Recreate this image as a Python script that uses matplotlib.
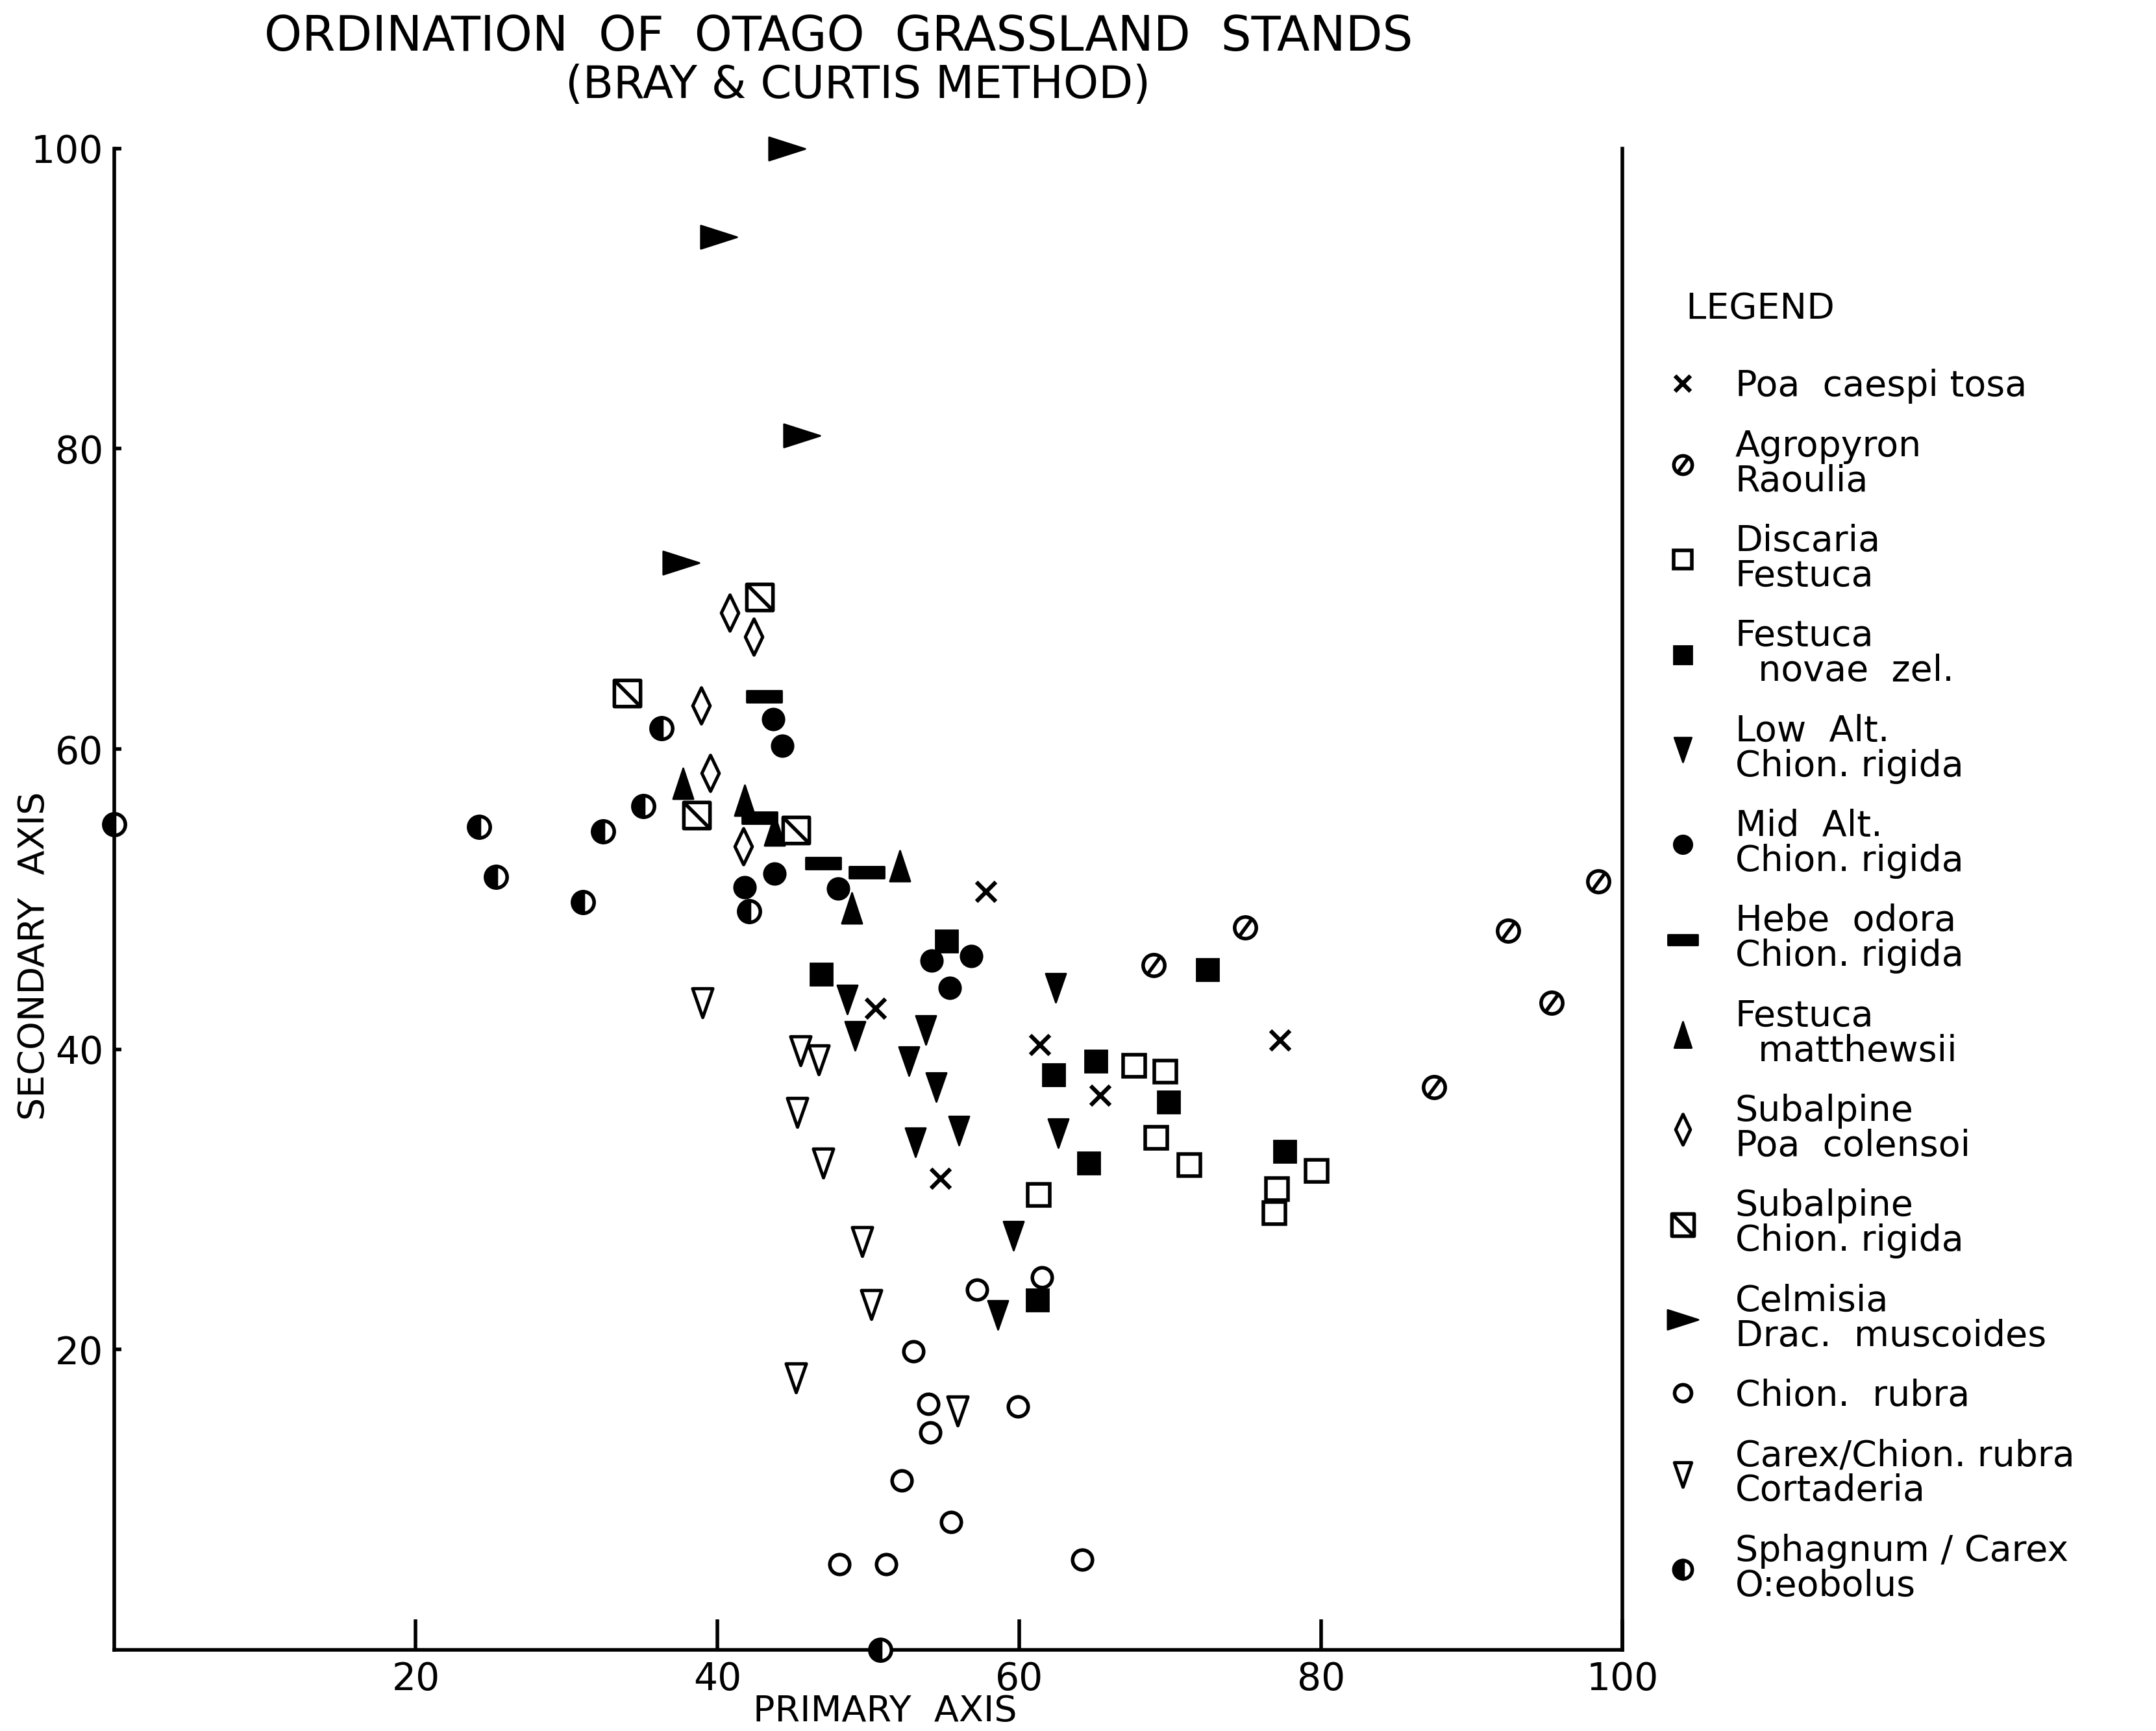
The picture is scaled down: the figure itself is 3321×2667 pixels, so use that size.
import numpy as np
import matplotlib
matplotlib.use("Agg")
import matplotlib.pyplot as plt
from matplotlib.path import Path

# stand positions (primary axis, secondary axis)
poa_caesp_x = [57.8, 50.5, 61.4, 65.4, 54.8, 77.3]
poa_caesp_y = [50.5, 42.7, 40.3, 36.9, 31.4, 40.6]

agropyron_x = [68.9, 75.0, 92.4, 98.4, 95.3, 87.5]
agropyron_y = [45.6, 48.1, 47.9, 51.2, 43.1, 37.5]

discaria_x = [67.6, 69.7, 69.1, 71.3, 79.7, 77.1, 76.9, 61.3]
discaria_y = [38.9, 38.5, 34.1, 32.3, 31.9, 30.7, 29.1, 30.3]

festuca_nz_x = [55.2, 46.9, 72.5, 65.1, 62.3, 69.9, 64.6, 77.6, 61.2]
festuca_nz_y = [47.2, 45.0, 45.3, 39.2, 38.3, 36.5, 32.4, 33.2, 23.3]

low_alt_x = [48.6, 49.1, 53.8, 52.7, 54.5, 62.4, 62.6, 53.1, 56.0, 59.6, 58.6]
low_alt_y = [43.3, 40.9, 41.3, 39.2, 37.5, 44.1, 34.4, 33.8, 34.6, 27.6, 22.3]

mid_alt_x = [43.7, 44.3, 41.8, 43.8, 48.0, 54.2, 56.8, 55.4]
mid_alt_y = [62.0, 60.2, 50.8, 51.7, 50.7, 45.9, 46.2, 44.1]

hebe_x = [43.1, 42.8, 47.0, 49.9]
hebe_y = [63.5, 55.4, 52.4, 51.8]

festuca_m_x = [37.7, 41.8, 43.8, 52.1, 48.9]
festuca_m_y = [57.7, 56.6, 54.6, 52.2, 49.4]

sub_poa_x = [40.8, 42.4, 38.9, 39.5, 41.7]
sub_poa_y = [69.1, 67.5, 62.9, 58.4, 53.5]

sub_chion_x = [42.8, 34.0, 38.6, 45.2]
sub_chion_y = [70.1, 63.7, 55.6, 54.6]

celmisia_x = [44.6, 40.1, 45.6, 37.6]
celmisia_y = [100.0, 94.1, 80.9, 72.4]

rubra_x = [61.5, 57.2, 53.0, 54.0, 54.1, 59.9, 52.2, 55.5, 48.1, 51.2, 64.2]
rubra_y = [24.8, 24.0, 19.9, 16.4, 14.5, 16.2, 11.3, 8.5, 5.7, 5.7, 6.0]

carex_x = [39.0, 45.5, 46.7, 45.3, 47.0, 49.6, 50.2, 45.2, 55.9]
carex_y = [43.1, 39.9, 39.3, 35.8, 32.4, 27.2, 23.0, 18.1, 15.9]

sphagnum_x = [0.0, 24.2, 25.3, 31.1, 32.4, 35.1, 36.3, 42.1, 50.8]
sphagnum_y = [55.0, 54.8, 51.5, 49.8, 54.5, 56.2, 61.4, 49.2, 0.0]

labels = ["Poa  caespi tosa", "Agropyron\nRaoulia", "Discaria\nFestuca",
          "Festuca\n  novae  zel.", "Low  Alt.\nChion. rigida",
          "Mid  Alt.\nChion. rigida", "Hebe  odora\nChion. rigida",
          "Festuca\n  matthewsii", "Subalpine\nPoa  colensoi",
          "Subalpine\nChion. rigida", "Celmisia\nDrac.  muscoides",
          "Chion.  rubra", "Carex/Chion. rubra\nCortaderia",
          "Sphagnum / Carex\nO:eobolus"]

# home made symbols of the original drawing
slash_circle = Path.make_compound_path(Path.unit_circle(),
                                       Path([(-0.55, -0.75), (0.55, 0.75)]))
slash_square = Path.make_compound_path(
    Path([(-1, -1), (1, -1), (1, 1), (-1, 1), (-1, -1)], closed=True),
    Path([(-1, 1), (1, -1)]))
bar = Path([(-1, -0.35), (1, -0.35), (1, 0.35), (-1, 0.35), (-1, -0.35)], closed=True)
flag = Path([(-1, 0.64), (1, 0), (-1, -0.64), (-1, 0.64)], closed=True)
tri_down = Path([(-0.7, 1), (0.7, 1), (0, -1), (-0.7, 1)], closed=True)
tri_up = Path([(-0.66, -1), (0.66, -1), (0, 1), (-0.66, -1)], closed=True)
diamond = Path([(0, 1), (0.48, 0), (0, -1), (-0.48, 0), (0, 1)], closed=True)

plt.rcParams['font.family'] = ['DejaVu Sans']

fig = plt.figure(figsize=(16.605, 13.335), dpi=200)
ax = fig.add_axes([0.0529, 0.0469, 0.6997, 0.8673])

groups = [
    (poa_caesp_x, poa_caesp_y, dict(marker='x', ms=10.5, mew=2.3, mec='k')),
    (agropyron_x, agropyron_y, dict(marker=slash_circle, ms=12, mew=2, mec='k', mfc='none')),
    (discaria_x, discaria_y, dict(marker='s', ms=12, mew=2, mec='k', mfc='none')),
    (festuca_nz_x, festuca_nz_y, dict(marker='s', ms=12, mew=1, mec='k', mfc='k')),
    (low_alt_x, low_alt_y, dict(marker=tri_down, ms=16, mew=1, mec='k', mfc='k')),
    (mid_alt_x, mid_alt_y, dict(marker='o', ms=12, mew=1, mec='k', mfc='k')),
    (hebe_x, hebe_y, dict(marker=bar, ms=19.5, mew=1, mec='k', mfc='k')),
    (festuca_m_x, festuca_m_y, dict(marker=tri_up, ms=17, mew=1, mec='k', mfc='k')),
    (sub_poa_x, sub_poa_y, dict(marker=diamond, ms=20, mew=1.8, mec='k', mfc='none')),
    (sub_chion_x, sub_chion_y, dict(marker=slash_square, ms=14.5, mew=2, mec='k', mfc='none')),
    (celmisia_x, celmisia_y, dict(marker=flag, ms=20, mew=1, mec='k', mfc='k')),
    (rubra_x, rubra_y, dict(marker='o', ms=11, mew=2, mec='k', mfc='none')),
    (carex_x, carex_y, dict(marker=tri_down, ms=16, mew=1.8, mec='k', mfc='none')),
    (sphagnum_x, sphagnum_y, dict(marker='o', ms=12, mew=2, mec='k', mfc='k',
                                  fillstyle='left', markerfacecoloralt='white')),
]

handles = []
for (xs, ys, st), lab in zip(groups, labels):
    h, = ax.plot(xs, ys, linestyle='none', clip_on=False, zorder=3, label=lab, **st)
    handles.append(h)

ax.set_xlim(0, 100)
ax.set_ylim(0, 100)
ax.spines['top'].set_visible(False)
for s in ['left', 'bottom', 'right']:
    ax.spines[s].set_linewidth(2)
ax.set_xticks([20, 40, 60, 80, 100])
ax.set_yticks([20, 40, 60, 80, 100])
ax.tick_params(axis='x', direction='in', length=17, width=2, pad=6, labelsize=21)
ax.tick_params(axis='y', direction='in', length=4, width=2, pad=6, labelsize=21)

ax.set_xlabel("PRIMARY  AXIS", fontsize=20)
ax.set_ylabel("SECONDARY  AXIS", fontsize=20)
ax.xaxis.set_label_coords(0.511, -0.041)
ax.yaxis.set_label_coords(-0.053, 0.462)
for lb in (ax.xaxis.label, ax.yaxis.label):
    lb.set_va('center')
    lb.set_ha('center')

fig.text(0.389, 0.9786, "ORDINATION  OF  OTAGO  GRASSLAND  STANDS", ha='center', va='center',
         fontsize=26.6)
fig.text(0.398, 0.9508, "(BRAY & CURTIS METHOD)", ha='center', va='center',
         fontsize=24.8)

leg = ax.legend(handles=handles, loc='upper left', bbox_to_anchor=(0.763, 0.842),
                bbox_transform=fig.transFigure, frameon=False, title="  LEGEND\n",
                alignment='left', title_fontsize=20, fontsize=20, numpoints=1,
                handlelength=1.1, handletextpad=0.9, labelspacing=0.69,
                borderpad=0, markerscale=0.85)
leg.get_title().set_linespacing(0.35)
for t in leg.get_texts():
    t.set_linespacing(1.0)

fig.savefig("out.png", dpi=200, facecolor='white')
